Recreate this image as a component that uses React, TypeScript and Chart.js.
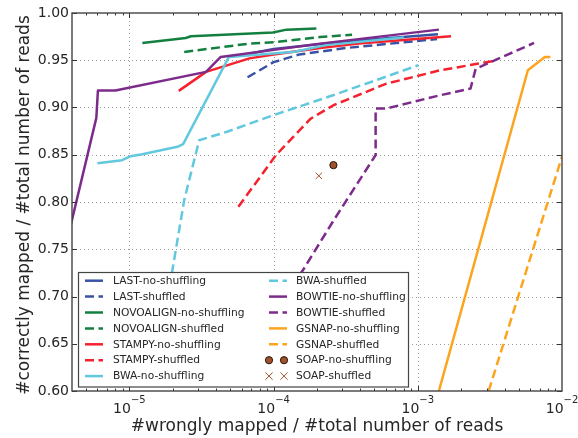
import React, { useEffect, useRef } from 'react';
import { Chart, registerables } from 'chart.js';

Chart.register(...registerables);

const FONT = '"DejaVu Sans", "Liberation Sans", sans-serif';
const TEXT = '#262626';

// ---- data (x = wrongly mapped fraction, y = correctly mapped fraction) ----
const lastNoShufX = [6.8e-5, 1e-4, 3e-4, 1.38e-3];
const lastNoShufY = [0.957, 0.962, 0.9695, 0.9775];
const lastShufX = [6.6e-5, 1e-4, 1.5e-4, 3.2e-4, 1.36e-3];
const lastShufY = [0.932, 0.948, 0.956, 0.963, 0.9725];
const novoNoShufX = [1.23e-5, 2.46e-5, 2.67e-5, 9.9e-5, 1.23e-4, 1.98e-4];
const novoNoShufY = [0.9683, 0.9736, 0.9754, 0.9793, 0.9824, 0.9835];
const novoShufX = [2.4e-5, 6.8e-5, 1e-4, 2.1e-4, 3.5e-4];
const novoShufY = [0.9588, 0.9676, 0.969, 0.9746, 0.977];
const stampyNoShufX = [2.2e-5, 3.4e-5, 6.8e-5, 1e-4, 2.1e-4, 3.9e-4, 1.7e-3];
const stampyNoShufY = [0.9176, 0.9377, 0.952, 0.956, 0.963, 0.9676, 0.9754];
const stampyShufX = [5.7e-5, 1.04e-4, 1.8e-4, 2.6e-4, 6e-4, 1.43e-3, 3.3e-3];
const stampyShufY = [0.795, 0.8496, 0.888, 0.9024, 0.925, 0.9394, 0.949];
const bwaNoShufX = [6e-6, 8.9e-6, 1.02e-5, 1.23e-5, 2.15e-5, 2.36e-5, 4.9e-5, 1.4e-4, 2.3e-4, 8e-4];
const bwaNoShufY = [0.841, 0.8443, 0.8485, 0.8506, 0.8584, 0.8612, 0.9535, 0.959, 0.966, 0.974];
const bwaShufX = [1.6e-5, 1.97e-5, 2.4e-5, 2.74e-5, 3.05e-5, 4.68e-5, 1e-4, 2.59e-4, 1.01e-3];
const bwaShufY = [0.64, 0.7245, 0.802, 0.8372, 0.8654, 0.874, 0.8919, 0.913, 0.9447];
const bowtieNoShufX = [3.5e-6, 5.9e-6, 6.05e-6, 8e-6, 3.4e-5, 4.3e-5, 2.1e-4, 1.4e-3];
const bowtieNoShufY = [0.744, 0.889, 0.918, 0.918, 0.9377, 0.9535, 0.9676, 0.9824];
const bowtieShufX = [6.5e-5, 1.6e-4, 2.66e-4, 5.1e-4, 5.1e-4, 6.1e-4, 1.43e-3, 2.32e-3, 2.52e-3, 6.4e-3];
const bowtieShufY = [0.64, 0.728, 0.7826, 0.8496, 0.899, 0.899, 0.913, 0.92, 0.941, 0.9683];
const gsnapNoShufX = [1.4e-3, 5.8e-3, 7.6e-3, 8.3e-3];
const gsnapNoShufY = [0.6, 0.9394, 0.9535, 0.9535];
const gsnapShufX = [3.1e-3, 1e-2];
const gsnapShufY = [0.6, 0.848];
const soapNoShufX = [2.6e-4];
const soapNoShufY = [0.839];
const soapShufX = [2.06e-4];
const soapShufY = [0.8277];

const xMajorExponents = [-5, -4, -3, -2];
const yTicks = [0.6, 0.65, 0.7, 0.75, 0.8, 0.85, 0.9, 0.95, 1.0];

const C_LAST = '#3953a4';
const C_NOVO = '#138040';
const C_STAMPY = '#f5222d';
const C_BWA = '#62c8de';
const C_BOWTIE = '#7d2b8b';
const C_GSNAP = '#fba41e';
const C_SOAP = '#a0522d';

const DASH = [9, 4.5];
const LW = 2.5;

type Series = { label: string; xs: number[]; ys: number[]; color: string; dashed: boolean; marker?: 'circle' | 'cross' };

const SERIES: Series[] = [
  { label: 'LAST-no-shuffling', xs: lastNoShufX, ys: lastNoShufY, color: C_LAST, dashed: false },
  { label: 'LAST-shuffled', xs: lastShufX, ys: lastShufY, color: C_LAST, dashed: true },
  { label: 'NOVOALIGN-no-shuffling', xs: novoNoShufX, ys: novoNoShufY, color: C_NOVO, dashed: false },
  { label: 'NOVOALIGN-shuffled', xs: novoShufX, ys: novoShufY, color: C_NOVO, dashed: true },
  { label: 'STAMPY-no-shuffling', xs: stampyNoShufX, ys: stampyNoShufY, color: C_STAMPY, dashed: false },
  { label: 'STAMPY-shuffled', xs: stampyShufX, ys: stampyShufY, color: C_STAMPY, dashed: true },
  { label: 'BWA-no-shuffling', xs: bwaNoShufX, ys: bwaNoShufY, color: C_BWA, dashed: false },
  { label: 'BWA-shuffled', xs: bwaShufX, ys: bwaShufY, color: C_BWA, dashed: true },
  { label: 'BOWTIE-no-shuffling', xs: bowtieNoShufX, ys: bowtieNoShufY, color: C_BOWTIE, dashed: false },
  { label: 'BOWTIE-shuffled', xs: bowtieShufX, ys: bowtieShufY, color: C_BOWTIE, dashed: true },
  { label: 'GSNAP-no-shuffling', xs: gsnapNoShufX, ys: gsnapNoShufY, color: C_GSNAP, dashed: false },
  { label: 'GSNAP-shuffled', xs: gsnapShufX, ys: gsnapShufY, color: C_GSNAP, dashed: true },
  { label: 'SOAP-no-shuffling', xs: soapNoShufX, ys: soapNoShufY, color: C_SOAP, dashed: false, marker: 'circle' },
  { label: 'SOAP-shuffled', xs: soapShufX, ys: soapShufY, color: C_SOAP, dashed: false, marker: 'cross' },
];

function drawCircle(ctx: CanvasRenderingContext2D, x: number, y: number, color: string) {
  ctx.save();
  ctx.setLineDash([]);
  ctx.beginPath();
  ctx.arc(x, y, 3.6, 0, Math.PI * 2);
  ctx.fillStyle = color;
  ctx.fill();
  ctx.lineWidth = 1;
  ctx.strokeStyle = '#2a1408';
  ctx.stroke();
  ctx.restore();
}

function drawCross(ctx: CanvasRenderingContext2D, x: number, y: number, color: string) {
  ctx.save();
  ctx.setLineDash([]);
  ctx.beginPath();
  const r = 3.6;
  ctx.moveTo(x - r, y - r);
  ctx.lineTo(x + r, y + r);
  ctx.moveTo(x - r, y + r);
  ctx.lineTo(x + r, y - r);
  ctx.strokeStyle = color;
  ctx.lineWidth = 1;
  ctx.stroke();
  ctx.restore();
}

const decorPlugin = {
  id: 'decor',
  beforeDatasetsDraw(chart: any) {
    const { ctx, chartArea: a, scales } = chart;
    const xs = scales.x;
    const ys = scales.y;
    ctx.save();
    ctx.strokeStyle = '#9a9a9a';
    ctx.lineWidth = 1;
    ctx.setLineDash([1, 3]);
    xMajorExponents.forEach((e) => {
      const px = Math.round(xs.getPixelForValue(Math.pow(10, e))) + 0.5;
      if (px <= a.left + 1 || px >= a.right - 1) return;
      ctx.beginPath();
      ctx.moveTo(px, a.top);
      ctx.lineTo(px, a.bottom);
      ctx.stroke();
    });
    yTicks.forEach((v) => {
      const py = Math.round(ys.getPixelForValue(v)) + 0.5;
      if (py <= a.top + 1 || py >= a.bottom - 1) return;
      ctx.beginPath();
      ctx.moveTo(a.left, py);
      ctx.lineTo(a.right, py);
      ctx.stroke();
    });
    ctx.restore();
  },
  afterDatasetsDraw(chart: any) {
    const { ctx, chartArea: a, scales } = chart;
    const xs = scales.x;
    const ys = scales.y;
    ctx.save();
    ctx.setLineDash([]);
    // ticks
    ctx.strokeStyle = '#333';
    ctx.lineWidth = 1;
    const lo = Math.log10(xs.min);
    const hi = Math.log10(xs.max);
    for (let e = Math.floor(lo); e <= Math.ceil(hi); e++) {
      for (let k = 1; k <= 9; k++) {
        const v = k * Math.pow(10, e);
        if (v <= xs.min * 1.0001 || v >= xs.max * 0.9999) continue;
        const px = Math.round(xs.getPixelForValue(v)) + 0.5;
        const len = k === 1 ? 5 : 2.5;
        ctx.beginPath();
        ctx.moveTo(px, a.bottom);
        ctx.lineTo(px, a.bottom - len);
        ctx.moveTo(px, a.top);
        ctx.lineTo(px, a.top + len);
        ctx.stroke();
      }
    }
    yTicks.forEach((v) => {
      const py = Math.round(ys.getPixelForValue(v)) + 0.5;
      ctx.beginPath();
      ctx.moveTo(a.left, py);
      ctx.lineTo(a.left + 5, py);
      ctx.moveTo(a.right, py);
      ctx.lineTo(a.right - 5, py);
      ctx.stroke();
    });
    // frame
    ctx.strokeStyle = '#444';
    ctx.lineWidth = 1.4;
    ctx.strokeRect(a.left, a.top, a.right - a.left, a.bottom - a.top);

    // legend
    const lx = 78.5, ly = 272.5, lw = 330, lh = 114.5;
    ctx.fillStyle = '#ffffff';
    ctx.fillRect(lx, ly, lw, lh);
    ctx.strokeStyle = '#444';
    ctx.lineWidth = 1.2;
    ctx.strokeRect(lx, ly, lw, lh);
    ctx.font = `10.7px ${FONT}`;
    ctx.textBaseline = 'middle';
    ctx.textAlign = 'left';
    SERIES.forEach((s, i) => {
      const col = i < 7 ? 0 : 1;
      const row = i % 7;
      const y = 280.7 + row * 15.9;
      const sx0 = col === 0 ? 85 : 269;
      const sx1 = sx0 + 18;
      const tx = col === 0 ? 113 : 296;
      if (s.marker === 'circle') {
        drawCircle(ctx, sx0, y, s.color);
        drawCircle(ctx, sx1 - 3, y, s.color);
      } else if (s.marker === 'cross') {
        drawCross(ctx, sx0, y, s.color);
        drawCross(ctx, sx1 - 3, y, s.color);
      } else {
        ctx.save();
        ctx.strokeStyle = s.color;
        ctx.lineWidth = LW;
        ctx.setLineDash(s.dashed ? DASH : []);
        ctx.beginPath();
        ctx.moveTo(sx0, y);
        ctx.lineTo(sx1, y);
        ctx.stroke();
        ctx.restore();
      }
      ctx.fillStyle = TEXT;
      ctx.fillText(s.label, tx, y + 0.5);
    });

    // x tick labels (10^n)
    ctx.fillStyle = TEXT;
    ctx.textBaseline = 'alphabetic';
    xMajorExponents.forEach((e) => {
      const px = xs.getPixelForValue(Math.pow(10, e));
      const base = '10';
      const exp = '\u2212' + String(Math.abs(e));
      ctx.font = `14px ${FONT}`;
      const wb = ctx.measureText(base).width;
      ctx.font = `10px ${FONT}`;
      const we = ctx.measureText(exp).width;
      const start = px - (wb + we) / 2;
      ctx.font = `14px ${FONT}`;
      ctx.fillText(base, start, 413);
      ctx.font = `10px ${FONT}`;
      ctx.fillText(exp, start + wb, 403);
    });

    // axis titles
    ctx.font = `17px ${FONT}`;
    ctx.textAlign = 'center';
    ctx.textBaseline = 'middle';
    ctx.fillText('#wrongly mapped / #total number of reads', (a.left + a.right) / 2, 427);
    ctx.save();
    ctx.translate(25, (a.top + a.bottom) / 2 + 3);
    ctx.rotate(-Math.PI / 2);
    ctx.fillText('#correctly mapped / #total number of reads', 0, 0);
    ctx.restore();
    ctx.restore();
  },
};

export default function App() {
  const ref = useRef<HTMLCanvasElement | null>(null);
  useEffect(() => {
    if (!ref.current) return;
    const n = SERIES.length;
    const datasets = SERIES.map((s, i) => {
      const data = s.xs.map((x, j) => ({ x, y: s.ys[j] }));
      if (s.marker) {
        return {
          label: s.label,
          data,
          showLine: false,
          pointStyle: s.marker === 'circle' ? 'circle' : 'crossRot',
          pointRadius: s.marker === 'circle' ? 3.6 : 4.5,
          pointBackgroundColor: s.color,
          pointBorderColor: s.marker === 'circle' ? '#2a1408' : s.color,
          pointBorderWidth: 1,
          order: n - i,
        };
      }
      return {
        label: s.label,
        data,
        showLine: true,
        borderColor: s.color,
        backgroundColor: s.color,
        borderWidth: LW,
        borderDash: s.dashed ? DASH : [],
        borderJoinStyle: 'round',
        pointRadius: 0,
        pointHoverRadius: 0,
        tension: 0,
        fill: false,
        order: n - i,
      };
    });
    const chart = new Chart(ref.current, {
      type: 'scatter',
      data: { datasets: datasets as any },
      options: {
        animation: false,
        responsive: true,
        maintainAspectRatio: false,
        events: [],
        layout: { padding: { left: 0, right: 16, top: 13, bottom: 0 } },
        plugins: { legend: { display: false }, tooltip: { enabled: false } },
        scales: {
          x: {
            type: 'logarithmic',
            min: 4e-6,
            max: 1e-2,
            grid: { display: false, drawTicks: false },
            border: { display: false },
            ticks: { display: false },
            afterFit: (s: any) => {
              s.height = 47;
            },
          },
          y: {
            type: 'linear',
            min: 0.6,
            max: 1.0,
            grid: { display: false, drawTicks: false },
            border: { display: false },
            ticks: {
              stepSize: 0.05,
              padding: 3,
              color: TEXT,
              font: { family: FONT, size: 14 },
              callback: (v: any) => Number(v).toFixed(2),
            },
            afterFit: (s: any) => {
              s.width = 72;
            },
          },
        },
      } as any,
      plugins: [decorPlugin],
    });
    return () => chart.destroy();
  }, []);
  return (
    <div style={{ position: 'absolute', left: 0, top: 0, width: 578, height: 438 }}>
      <canvas ref={ref} />
    </div>
  );
}
